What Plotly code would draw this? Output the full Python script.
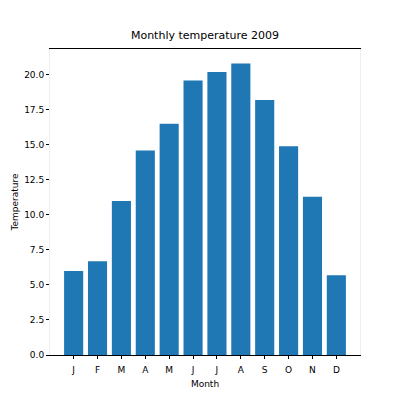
import plotly.graph_objects as go

# --- data ---
months = ["J", "F", "M", "A", "M", "J", "J", "A", "S", "O", "N", "D"]
temperature = [6.0, 6.7, 11.0, 14.6, 16.5, 19.6, 20.2, 20.8, 18.2, 14.9, 11.3, 5.7]
y_ticks = [0.0, 2.5, 5.0, 7.5, 10.0, 12.5, 15.0, 17.5, 20.0]

positions = list(range(len(months)))

fig = go.Figure()
fig.add_trace(go.Bar(
    x=positions,
    y=temperature,
    width=0.8,
    marker=dict(color="#1f77b4", line=dict(width=0)),
))

font = dict(family="DejaVu Sans", size=9, color="black")

# page has an 8px body margin, so margins are shifted to land the axes
fig.update_layout(
    width=400, height=400,
    margin=dict(l=42, r=48, t=41, b=53),
    paper_bgcolor="white", plot_bgcolor="white",
    showlegend=False,
    font=font,
    title=dict(text="Monthly temperature 2009", x=(205 - 8) / 400, xanchor="center",
               y=1 - 27 / 400, yanchor="middle",
               font=dict(family="DejaVu Sans", size=11, color="black")),
    xaxis=dict(
        range=[-0.99, 11.99],
        tickmode="array", tickvals=positions, ticktext=months,
        ticks="outside", ticklen=3, tickcolor="black", ticklabelstandoff=3,
        showline=True, linecolor="black", linewidth=1, mirror=True,
        showgrid=False, zeroline=False, automargin=False,
        title=dict(text="Month", standoff=6, font=font),
    ),
    yaxis=dict(
        range=[0, 21.84],
        tickmode="array", tickvals=y_ticks,
        ticktext=[f"{v:.1f}" for v in y_ticks],
        ticks="outside", ticklen=3, tickcolor="black",
        showline=True, linecolor="#eeeeee", linewidth=1, mirror=True,
        showgrid=False, zeroline=False, automargin=False,
        title=dict(text="Temperature", standoff=4, font=font),
    ),
)

fig.write_html("out.html")
